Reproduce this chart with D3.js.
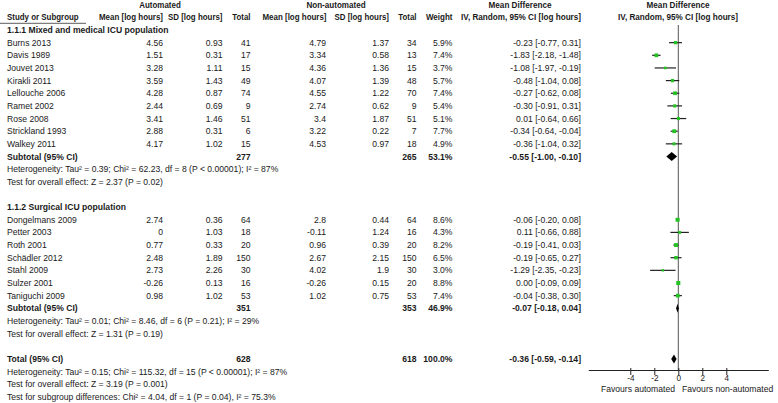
<!DOCTYPE html>
<html><head><meta charset="utf-8">
<script src="https://cdn.jsdelivr.net/npm/d3@7"></script>
<style>
body{margin:0;background:#fff;}
svg text{font-family:"Liberation Sans",Arial,sans-serif;font-size:8.6px;fill:#1a1a1a;}
</style></head>
<body><svg id="c" width="778" height="403"></svg>
<script>
// ---------- data ----------
const studies   = ["Burns 2013","Davis 1989","Jouvet 2013","Kirakli 2011","Lellouche 2006","Ramet 2002","Rose 2008","Strickland 1993","Walkey 2011",
                   "Dongelmans 2009","Petter 2003","Roth 2001","Schädler 2012","Stahl 2009","Sulzer 2001","Taniguchi 2009"];
const group     = [1,1,1,1,1,1,1,1,1, 2,2,2,2,2,2,2];
const autoMean  = [4.56,1.51,3.28,3.59,4.28,2.44,3.41,2.88,4.17, 2.74,0,0.77,2.48,2.73,-0.26,0.98];
const autoSD    = [0.93,0.31,1.11,1.43,0.87,0.69,1.46,0.31,1.02, 0.36,1.03,0.33,1.89,2.26,0.13,1.02];
const autoN     = [41,17,15,49,74,9,51,6,15, 64,18,20,150,30,16,53];
const nonMean   = [4.79,3.34,4.36,4.07,4.55,2.74,3.4,3.22,4.53, 2.8,-0.11,0.96,2.67,4.02,-0.26,1.02];
const nonSD     = [1.37,0.58,1.36,1.39,1.22,0.62,1.87,0.22,0.97, 0.44,1.24,0.39,2.15,1.9,0.15,0.75];
const nonN      = [34,13,15,48,70,9,51,7,18, 64,16,20,150,30,20,53];
const weight    = [5.9,7.4,3.7,5.7,7.4,5.4,5.1,7.7,4.9, 8.6,4.3,8.2,6.5,3.0,8.8,7.4];
const md        = [-0.23,-1.83,-1.08,-0.48,-0.27,-0.30,0.01,-0.34,-0.36, -0.06,0.11,-0.19,-0.19,-1.29,0.00,-0.04];
const mdLo      = [-0.77,-2.18,-1.97,-1.04,-0.62,-0.91,-0.64,-0.64,-1.04, -0.20,-0.66,-0.41,-0.65,-2.35,-0.09,-0.38];
const mdHi      = [0.31,-1.48,-0.19,0.08,0.08,0.31,0.66,-0.04,0.32, 0.08,0.88,0.03,0.27,-0.23,0.09,0.30];

const groupNames   = ["1.1.1 Mixed and medical ICU population","1.1.2 Surgical ICU population"];
const subAutoN     = [277,351];
const subNonN      = [265,353];
const subWeight    = [53.1,46.9];
const subMd        = [-0.55,-0.07];
const subLo        = [-1.00,-0.18];
const subHi        = [-0.10,0.04];
const subHet       = ["Heterogeneity: Tau² = 0.39; Chi² = 62.23, df = 8 (P < 0.00001); I² = 87%",
                      "Heterogeneity: Tau² = 0.01; Chi² = 8.46, df = 6 (P = 0.21); I² = 29%"];
const subTest      = ["Test for overall effect: Z = 2.37 (P = 0.02)","Test for overall effect: Z = 1.31 (P = 0.19)"];
const total        = {autoN:628, nonN:618, weight:100.0, md:-0.36, lo:-0.59, hi:-0.14};
const totalNotes   = ["Heterogeneity: Tau² = 0.15; Chi² = 115.32, df = 15 (P < 0.00001); I² = 87%",
                      "Test for overall effect: Z = 3.19 (P = 0.001)",
                      "Test for subgroup differences: Chi² = 4.04, df = 1 (P = 0.04), I² = 75.3%"];
const axisTicks    = [-4,-2,0,2,4];
const favourLabels = ["Favours automated","Favours non-automated"];

// ---------- build rows ----------
const rows = [];
[1,2].forEach((g,gi)=>{
  rows.push({type:"group", label:groupNames[gi]});
  studies.forEach((s,i)=>{ if(group[i]===g) rows.push({type:"study", i}); });
  rows.push({type:"sub", gi});
  rows.push({type:"note", label:subHet[gi]});
  rows.push({type:"note", label:subTest[gi]});
  rows.push({type:"blank"});
});
rows.push({type:"total"});
totalNotes.forEach(t=>rows.push({type:"note", label:t}));

const svg = d3.select("#c");
const y = d3.scaleLinear().domain([0, rows.length-1]).range([30, 30 + 12.65*(rows.length-1)]);
const x = d3.scaleLinear().domain([-7.5, 7.5]).range([588.3, 768.3]);
const sq = d3.scaleSqrt().domain([0,10]).range([0,4.3]);

const col = {name:7, aMean:163, aSD:222.5, aN:250.5, nMean:326, nSD:389, nN:416.5, w:452.5, mdTxt:581};
const fmt2 = v => v.toFixed(2);
const mdText = (m,l,h) => `${fmt2(m)} [${fmt2(l)}, ${fmt2(h)}]`;

function txt(xp, yp, s, anchor="start", bold=false){
  return svg.append("text").attr("x",xp).attr("y",yp+3).attr("text-anchor",anchor)
     .attr("font-weight",bold?"bold":null).text(s);
}
// header text: bold glyphs squeezed to regular width
function htxt(xp, yp, s, anchor){
  const t = txt(xp, yp, s, anchor, false);
  const w = t.node().getComputedTextLength();
  t.attr("font-weight","bold").attr("textLength", w).attr("lengthAdjust","spacingAndGlyphs");
  return t;
}

// headers
htxt(160, 5, "Automated", "middle");
htxt(336, 5, "Non-automated", "middle");
htxt(520, 5, "Mean Difference", "middle");
htxt(678, 5, "Mean Difference", "middle");
htxt(col.name, 17, "Study or Subgroup", "start");
htxt(col.aMean, 17, "Mean [log hours]", "end");
htxt(col.aSD, 17, "SD [log hours]", "end");
htxt(col.aN, 17, "Total", "end");
htxt(col.nMean+0.5, 17, "Mean [log hours]", "end");
htxt(col.nSD, 17, "SD [log hours]", "end");
htxt(col.nN, 17, "Total", "end");
htxt(col.w, 17, "Weight", "end");
htxt(521, 17, "IV, Random, 95% CI [log hours]", "middle");
htxt(678, 17, "IV, Random, 95% CI [log hours]", "middle");
svg.append("line").attr("x1",0).attr("x2",86).attr("y1",23.3).attr("y2",23.3).attr("stroke","#333").attr("stroke-width",0.8);

// zero line
svg.append("line").attr("x1",x(0)).attr("x2",x(0)).attr("y1",25).attr("y2",370).attr("stroke","#555").attr("stroke-width",1);

function diamond(m,l,h,yc){
  const hh=4.5;
  svg.append("path").attr("d",`M${x(l)},${yc}L${x(m)},${yc-hh}L${x(h)},${yc}L${x(m)},${yc+hh}Z`).attr("fill","#000");
}

rows.forEach((r,k)=>{
  const yc = y(k);
  if(r.type==="group"){ txt(col.name, yc, r.label, "start", true); }
  else if(r.type==="study"){
    const i=r.i;
    txt(col.name, yc, studies[i]);
    txt(col.aMean, yc, String(autoMean[i]), "end");
    txt(col.aSD, yc, String(autoSD[i]), "end");
    txt(col.aN, yc, String(autoN[i]), "end");
    txt(col.nMean, yc, String(nonMean[i]), "end");
    txt(col.nSD, yc, String(nonSD[i]), "end");
    txt(col.nN, yc, String(nonN[i]), "end");
    txt(col.w, yc, weight[i].toFixed(1)+"%", "end");
    txt(col.mdTxt, yc, mdText(md[i],mdLo[i],mdHi[i]), "end");
    svg.append("line").attr("x1",x(mdLo[i])).attr("x2",x(mdHi[i])).attr("y1",yc).attr("y2",yc)
       .attr("stroke","#222").attr("stroke-width",1.2);
    const s=sq(weight[i]);
    svg.append("rect").attr("x",x(md[i])-s/2).attr("y",yc-s/2).attr("width",s).attr("height",s).attr("fill","#22c322");
  }
  else if(r.type==="sub"){
    const g=r.gi;
    txt(col.name, yc, "Subtotal (95% CI)", "start", true);
    txt(col.aN, yc, String(subAutoN[g]), "end", true);
    txt(col.nN, yc, String(subNonN[g]), "end", true);
    txt(col.w, yc, subWeight[g].toFixed(1)+"%", "end", true);
    txt(col.mdTxt, yc, mdText(subMd[g],subLo[g],subHi[g]), "end", true);
    diamond(subMd[g],subLo[g],subHi[g],yc);
  }
  else if(r.type==="note"){ txt(col.name, yc, r.label); }
  else if(r.type==="total"){
    txt(col.name, yc, "Total (95% CI)", "start", true);
    txt(col.aN, yc, String(total.autoN), "end", true);
    txt(col.nN, yc, String(total.nonN), "end", true);
    txt(col.w, yc, total.weight.toFixed(1)+"%", "end", true);
    txt(col.mdTxt, yc, mdText(total.md,total.lo,total.hi), "end", true);
    diamond(total.md,total.lo,total.hi,yc);
  }
});

// axis
const ax = svg.append("g").attr("transform","translate(0,370)")
  .call(d3.axisBottom(x).tickValues(axisTicks).tickSize(5).tickSizeOuter(0).tickPadding(0).tickFormat(d=>String(d)));
ax.select(".domain").attr("stroke","#222");
ax.selectAll(".tick line").attr("y1",-2).attr("stroke","#222");
ax.selectAll(".tick text").style("font-size","8.2px").attr("fill","#1a1a1a").style("font-family","'Liberation Sans',Arial,sans-serif");
txt(675, 389, favourLabels[0], "end");
txt(682, 389, favourLabels[1], "start");
</script></body></html>
